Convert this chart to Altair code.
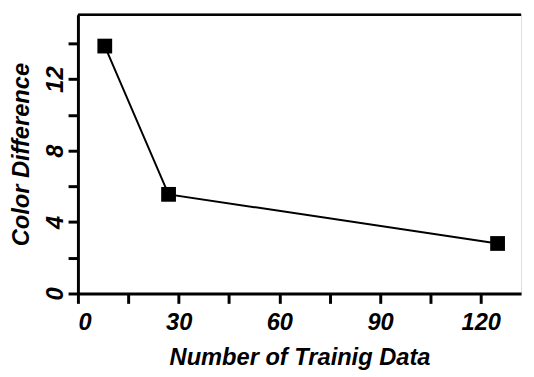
import altair as alt
import pandas as pd

training = [8, 27, 125]
color_diff = [13.85, 5.55, 2.8]
x_ticks = [0, 15, 30, 45, 60, 75, 90, 105, 120]
y_ticks = [0, 2, 4, 6, 8, 10, 12, 14]

df = pd.DataFrame({"n": training, "cd": color_diff})
FONT = "Liberation Sans"

x = alt.X("n:Q", scale=alt.Scale(domain=[0, 132], nice=False, zero=True),
          axis=alt.Axis(title="Number of Trainig Data", values=x_ticks,
                        labelExpr="datum.value % 30 == 0 ? datum.label : ''",
                        grid=False, domainWidth=3, domainColor="black",
                        tickWidth=3, tickSize=10, tickColor="black",
                        labelFont=FONT, labelFontSize=24, labelFontWeight="bold",
                        labelFontStyle="italic", labelColor="black", labelPadding=8,
                        titleFont=FONT, titleFontSize=24, titleFontWeight="bold",
                        titleFontStyle="italic", titleColor="black", titlePadding=11))
y = alt.Y("cd:Q", scale=alt.Scale(domain=[0, 15.6], nice=False),
          axis=alt.Axis(title="Color Difference", values=y_ticks,
                        labelExpr="datum.value % 4 == 0 ? datum.label : ''",
                        grid=False, domainWidth=3, domainColor="black",
                        tickWidth=3, tickSize=10, tickColor="black",
                        labelAngle=270, labelAlign="center", labelBaseline="bottom",
                        labelFont=FONT, labelFontSize=24, labelFontWeight="bold",
                        labelFontStyle="italic", labelColor="black", labelPadding=1,
                        titleFont=FONT, titleFontSize=24, titleFontWeight="bold",
                        titleFontStyle="italic", titleColor="black", titlePadding=10))

line = alt.Chart(df).mark_line(color="black", strokeWidth=2).encode(x=x, y=y)
pts = alt.Chart(df).mark_point(shape="square", filled=True, color="black",
                               size=225, opacity=1).encode(x=x, y=y)
top = alt.Chart(df).mark_rule(color="black", strokeWidth=2).encode(
    x=alt.value(0), x2=alt.value(450), y=alt.value(0))

chart = alt.layer(line, pts, top).properties(
    width=450, height=283,
    autosize=alt.AutoSizeParams(type="none"),
    padding={"left": 71, "top": 4, "right": 5, "bottom": 90},
).configure_view(strokeWidth=0).configure(background="white")

chart.save("out.html", embed_options={"renderer": "svg", "actions": False})
